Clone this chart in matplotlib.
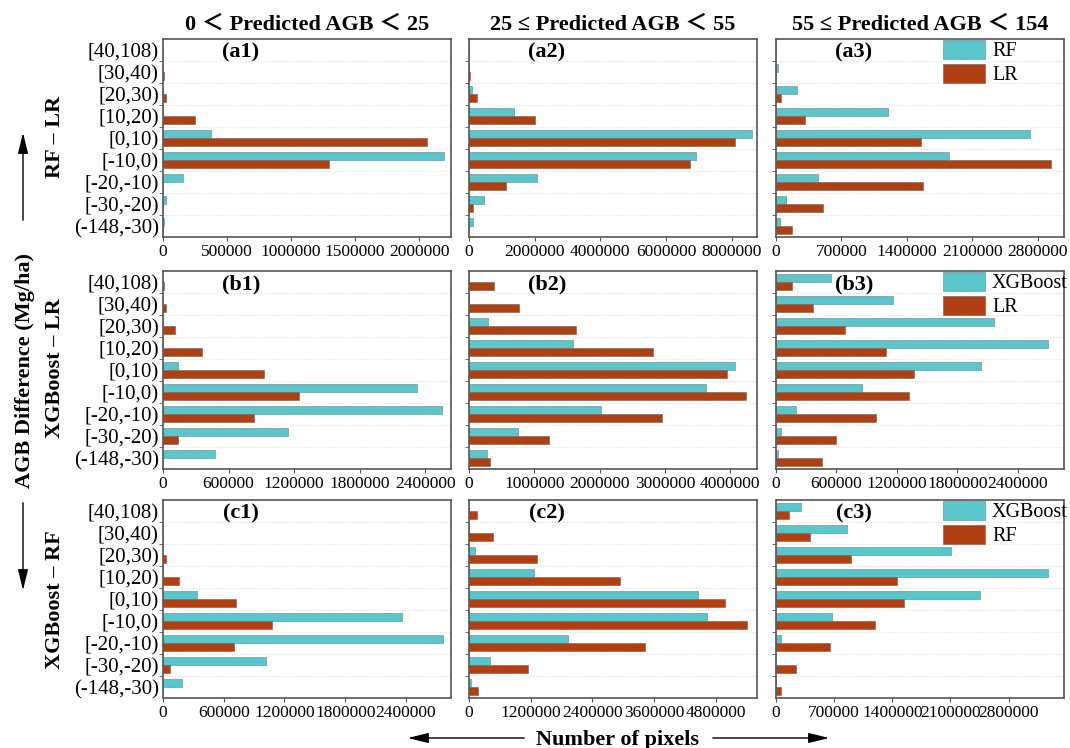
import numpy as np
import matplotlib.pyplot as plt
from matplotlib.patches import FancyArrowPatch

plt.rcParams['font.family'] = ['Liberation Serif', 'DejaVu Serif']

# AGB difference classes, bottom to top
categories = ['(-148,-30)', '[-30,-20)', '[-20,-10)', '[-10,0)', '[0,10)',
              '[10,20)', '[20,30)', '[30,40)', '[40,108)']

col_titles = ['0 \uff1c Predicted AGB \uff1c 25',
              '25 \u2264 Predicted AGB \uff1c 55',
              '55 \u2264 Predicted AGB \uff1c 154']
row_titles = ['RF \u2013 LR', 'XGBoost \u2013 LR', 'XGBoost \u2013 RF']
legend_names = [('RF', 'LR'), ('XGBoost', 'LR'), ('XGBoost', 'RF')]

# row a: RF - LR
a1_first = [5000, 21000, 156000, 2193000, 378000, 0, 0, 0, 0]
a1_second = [0, 0, 0, 1294000, 2060000, 253000, 21000, 10000, 0]
a2_first = [132000, 467000, 2081000, 6924000, 8630000, 1380000, 91000, 0, 0]
a2_second = [0, 112000, 1137000, 6741000, 8100000, 2020000, 244000, 20000, 0]
a3_first = [39000, 111000, 454000, 1854000, 2721000, 1200000, 225000, 18000, 0]
a3_second = [168000, 500000, 1571000, 2946000, 1554000, 307000, 50000, 0, 0]

# row b: XGBoost - LR
b1_first = [478000, 1145000, 2553000, 2324000, 140000, 0, 0, 0, 0]
b1_second = [0, 134000, 832000, 1240000, 920000, 353000, 110000, 30000, 12000]
b2_first = [281000, 755000, 2026000, 3622000, 4066000, 1587000, 291000, 0, 0]
b2_second = [321000, 1230000, 2959000, 4245000, 3949000, 2816000, 1638000, 760000, 378000]
b3_first = [17000, 50000, 199000, 855000, 2038000, 2698000, 2164000, 1157000, 547000]
b3_second = [454000, 593000, 991000, 1316000, 1369000, 1097000, 686000, 371000, 162000]

# row c: XGBoost - RF
c1_first = [187000, 1020000, 2763000, 2362000, 339000, 0, 0, 0, 0]
c1_second = [0, 69000, 700000, 1072000, 720000, 158000, 26000, 0, 0]
c2_first = [45000, 414000, 1924000, 4624000, 4456000, 1269000, 123000, 0, 0]
c2_second = [175000, 1140000, 3426000, 5415000, 4987000, 2934000, 1315000, 466000, 162000]
c3_first = [0, 0, 60000, 675000, 2450000, 3269000, 2108000, 855000, 305000]
c3_second = [64000, 237000, 647000, 1189000, 1542000, 1458000, 904000, 406000, 157000]

data = [[(a1_first, a1_second), (a2_first, a2_second), (a3_first, a3_second)],
        [(b1_first, b1_second), (b2_first, b2_second), (b3_first, b3_second)],
        [(c1_first, c1_second), (c2_first, c2_second), (c3_first, c3_second)]]

xticks = [[np.arange(0, 2000001, 500000), np.arange(0, 8000001, 2000000), np.arange(0, 2800001, 700000)],
          [np.arange(0, 2400001, 600000), np.arange(0, 4000001, 1000000), np.arange(0, 2400001, 600000)],
          [np.arange(0, 2400001, 600000), np.arange(0, 4800001, 1200000), np.arange(0, 2800001, 700000)]]
xlims = [[2.25e6, 8.77e6, 3.08e6],
         [2.635e6, 4.41e6, 2.86e6],
         [2.845e6, 5.6e6, 3.466e6]]

cyan = '#5AC6CC'
brown = '#B04012'

fig = plt.figure(figsize=(10.7, 7.48), dpi=100)

W, H = 1070, 748
col_left = [163, 469, 776]
col_w = 288
row_top = [39, 271, 500]
row_h = 198

y = np.arange(len(categories))
bh = 0.35

for r in range(3):
    for c in range(3):
        ax = fig.add_axes([col_left[c] / W, 1 - (row_top[r] + row_h) / H, col_w / W, row_h / H])
        first, second = data[r][c]
        ax.barh(y + bh / 2, first, height=bh, color=cyan, edgecolor='#6d9a9c', linewidth=0.5,
                label=legend_names[r][0])
        ax.barh(y - bh / 2, second, height=bh, color=brown, edgecolor='#8a6a5a', linewidth=0.5,
                label=legend_names[r][1])
        ax.set_ylim(-0.5, len(categories) - 0.5)
        ax.set_xlim(0, xlims[r][c])
        ax.set_xticks(xticks[r][c])
        ax.set_xticklabels([str(v) for v in xticks[r][c]], fontsize=12.5)
        ax.set_yticks(y)
        if c == 0:
            ax.set_yticklabels(categories, fontsize=15)
        else:
            ax.set_yticklabels([])
        ax.set_yticks(y[:-1] + 0.5, minor=True)
        ax.tick_params(axis='y', which='major', length=0, pad=3)
        ax.tick_params(axis='y', which='minor', length=3, color='#555555')
        ax.tick_params(axis='x', length=3, color='#555555', pad=2)
        ax.grid(axis='y', which='minor', color='#dddddd', linestyle=':', linewidth=0.8)
        ax.set_axisbelow(True)
        for s in ax.spines.values():
            s.set_color('#555555')
            s.set_linewidth(1.2)
        ax.text(0.27, 0.93, '(%s%d)' % ('abc'[r], c + 1), transform=ax.transAxes,
                fontsize=16, fontweight='bold', ha='center', va='center')
        if c == 2:
            ax.legend(loc='upper left', bbox_to_anchor=(0.575, 1.0), frameon=False,
                      fontsize=14.5, handlelength=2.1, handleheight=1.05, labelspacing=0.15,
                      handletextpad=0.35, borderpad=0.05, borderaxespad=0)
        if r == 0:
            ax.set_title(col_titles[c], fontsize=16, fontweight='bold', pad=7,
                         family=['Liberation Serif', 'Noto Sans CJK SC'])

# row labels and arrows on the left
for r, name in enumerate(row_titles):
    yc = [137, 368, 600][r]
    fig.text(55 / W, 1 - yc / H, name, rotation=90, fontsize=16, fontweight='bold',
             ha='center', va='center')
fig.text(25 / W, 1 - 370 / H, 'AGB Difference (Mg/ha)', rotation=90, fontsize=16,
         fontweight='bold', ha='center', va='center')

arrow_kw = dict(transform=fig.transFigure, arrowstyle='-|>,head_length=0.9,head_width=0.22',
                mutation_scale=14, color='black', lw=1)
fig.add_artist(FancyArrowPatch((23 / W, 1 - 223 / H), (23 / W, 1 - 130 / H), **arrow_kw))
fig.add_artist(FancyArrowPatch((23 / W, 1 - 500 / H), (23 / W, 1 - 593 / H), **arrow_kw))
fig.add_artist(FancyArrowPatch((527 / W, 1 - 738 / H), (405 / W, 1 - 738 / H), **arrow_kw))
fig.add_artist(FancyArrowPatch((710 / W, 1 - 738 / H), (832 / W, 1 - 738 / H), **arrow_kw))
fig.text(618 / W, 1 - 740 / H, 'Number of pixels', fontsize=16, fontweight='bold',
         ha='center', va='center')

fig.savefig('out.png', dpi=100)
